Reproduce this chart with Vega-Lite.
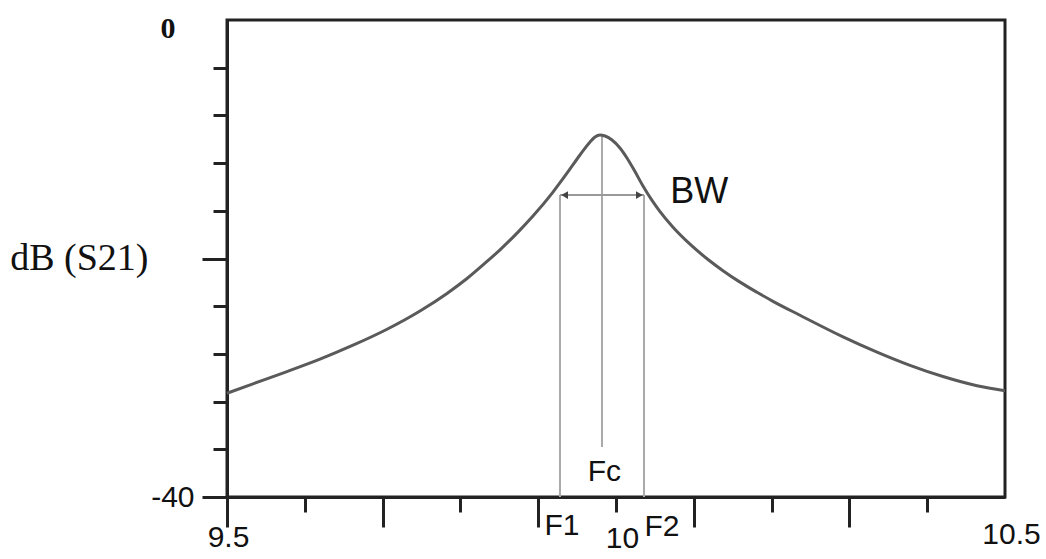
{
  "$schema": "https://vega.github.io/schema/vega-lite/v6.json",
  "width": 778,
  "height": 477,
  "autosize": {"type": "none"},
  "padding": {"left": 227, "top": 20, "right": 41, "bottom": 62},
  "background": "white",
  "config": {
    "view": {"stroke": "#222", "strokeWidth": 3},
    "font": "Liberation Sans"
  },
  "datasets": {
    "curve": [
      {"f": 9.5000, "db": -31.30},
      {"f": 9.5334, "db": -30.51},
      {"f": 9.5771, "db": -29.48},
      {"f": 9.6195, "db": -28.44},
      {"f": 9.6620, "db": -27.27},
      {"f": 9.7057, "db": -25.93},
      {"f": 9.7481, "db": -24.40},
      {"f": 9.7828, "db": -22.93},
      {"f": 9.8085, "db": -21.68},
      {"f": 9.8342, "db": -20.25},
      {"f": 9.8509, "db": -19.27},
      {"f": 9.8728, "db": -17.87},
      {"f": 9.8933, "db": -16.44},
      {"f": 9.9190, "db": -14.43},
      {"f": 9.9370, "db": -12.85},
      {"f": 9.9537, "db": -11.32},
      {"f": 9.9666, "db": -10.23},
      {"f": 9.9730, "db": -9.81},
      {"f": 9.9794, "db": -9.64},
      {"f": 9.9859, "db": -9.73},
      {"f": 9.9949, "db": -10.06},
      {"f": 10.0051, "db": -10.73},
      {"f": 10.0141, "db": -11.57},
      {"f": 10.0244, "db": -12.71},
      {"f": 10.0347, "db": -13.92},
      {"f": 10.0463, "db": -15.13},
      {"f": 10.0566, "db": -16.07},
      {"f": 10.0733, "db": -17.38},
      {"f": 10.0951, "db": -18.80},
      {"f": 10.1170, "db": -20.02},
      {"f": 10.1375, "db": -21.02},
      {"f": 10.1594, "db": -21.98},
      {"f": 10.1812, "db": -22.83},
      {"f": 10.2018, "db": -23.59},
      {"f": 10.2365, "db": -24.76},
      {"f": 10.2918, "db": -26.57},
      {"f": 10.3355, "db": -27.85},
      {"f": 10.3779, "db": -28.96},
      {"f": 10.4203, "db": -29.90},
      {"f": 10.4640, "db": -30.67},
      {"f": 10.5000, "db": -31.09}
    ],
    "verticals": [
      {"name": "F1", "f": 9.928, "lo": -40, "hi": -14.68},
      {"name": "F2", "f": 10.036, "lo": -40, "hi": -14.68},
      {"name": "Fc", "f": 9.982, "lo": -35.8, "hi": -9.64}
    ],
    "bw": [
      {"f1": 9.928, "f2": 10.036, "db": -14.68}
    ],
    "heads": [
      {"f": 9.934, "db": -14.68, "shape": "triangle-left"},
      {"f": 10.030, "db": -14.68, "shape": "triangle-right"}
    ],
    "labels": [
      {"text": "Fc", "f": 9.985, "db": -37.9, "size": 30},
      {"text": "F1", "f": 9.9306, "db": -42.4, "size": 30},
      {"text": "F2", "f": 10.059, "db": -42.5, "size": 30},
      {"text": "BW", "f": 10.107, "db": -14.42, "size": 36}
    ]
  },
  "layer": [
    {
      "data": {"name": "verticals"},
      "mark": {"type": "rule", "stroke": "#aaaaaa", "strokeWidth": 2},
      "encoding": {
        "x": {
          "field": "f", "type": "quantitative",
          "scale": {"domain": [9.5, 10.5], "nice": false, "zero": false},
          "axis": {
            "values": [9.5, 9.6, 9.7, 9.8, 9.9, 10.0, 10.1, 10.2, 10.3, 10.4, 10.5],
            "labelExpr": "abs(datum.value-9.5)<0.001 ? '9.5' : (abs(datum.value-10)<0.001 ? '10' : (abs(datum.value-10.5)<0.001 ? '10.5' : ''))",
            "tickSize": {"condition": [
              {"test": "abs(datum.value-10.5)<0.001", "value": 0},
              {"test": "abs(datum.value-9.5)<0.01 || abs(datum.value-9.7)<0.01 || abs(datum.value-9.9)<0.01 || abs(datum.value-10.1)<0.01 || abs(datum.value-10.3)<0.01", "value": 30}
            ], "value": 15},
            "tickColor": "#222",
            "tickWidth": 3,
            "domainColor": "#222",
            "domainWidth": 3,
            "grid": false,
            "labelFlush": false,
            "labelOverlap": false,
            "labelFont": "Liberation Sans",
            "labelFontSize": 30,
            "labelColor": "#111",
            "labelPadding": {"condition": [
              {"test": "abs(datum.value-9.5)<0.001", "value": -5},
              {"test": "abs(datum.value-10.5)<0.001", "value": 22}
            ], "value": 11},
            "labelOffset": {"condition": {"test": "abs(datum.value-9.5)<0.001", "value": 1}, "value": 6},
            "title": null
          }
        },
        "y": {
          "field": "lo", "type": "quantitative",
          "scale": {"domain": [-40, 0], "nice": false, "zero": false},
          "axis": {
            "values": [-40, -38, -36, -34, -32, -30, -28, -26, -24, -22, -20, -18, -16, -14, -12, -10, -8, -6, -4, -2, 0],
            "labelExpr": "datum.value == 0 ? '0' : (datum.value == -40 ? '-40' : '')",
            "tickSize": {"condition": [
              {"test": "datum.value == 0", "value": 0},
              {"test": "datum.value % 10 == 0", "value": 25}
            ], "value": 14},
            "tickColor": "#222",
            "tickWidth": 3,
            "domainColor": "#222",
            "domainWidth": 3,
            "grid": false,
            "labelOverlap": false,
            "labelFont": {"condition": {"test": "datum.value == 0", "value": "Liberation Serif"}, "value": "Liberation Sans"},
            "labelFontSize": 30,
            "labelFontWeight": {"condition": {"test": "datum.value == 0", "value": "bold"}, "value": "normal"},
            "labelColor": "#111",
            "labelPadding": {"condition": {"test": "datum.value == 0", "value": 52}, "value": 8},
            "labelOffset": {"condition": {"test": "datum.value == 0", "value": 8}, "value": 0},
            "title": "dB (S21)",
            "titleFont": "Liberation Serif",
            "titleFontSize": 38,
            "titleFontWeight": "normal",
            "titleColor": "#111",
            "titleAngle": 0,
            "titleAlign": "right",
            "titleBaseline": "middle",
            "titleX": -79,
            "titleY": 238
          }
        },
        "y2": {"field": "hi"}
      }
    },
    {
      "data": {"name": "bw"},
      "mark": {"type": "rule", "stroke": "#999999", "strokeWidth": 2},
      "encoding": {
        "x": {"field": "f1", "type": "quantitative"},
        "x2": {"field": "f2"},
        "y": {"field": "db", "type": "quantitative"}
      }
    },
    {
      "data": {"name": "heads"},
      "mark": {"type": "point", "filled": true, "color": "#444", "size": 60, "opacity": 1},
      "encoding": {
        "x": {"field": "f", "type": "quantitative"},
        "y": {"field": "db", "type": "quantitative"},
        "shape": {"field": "shape", "type": "nominal", "scale": null, "legend": null}
      }
    },
    {
      "data": {"name": "curve"},
      "mark": {"type": "line", "stroke": "#5a5a5a", "strokeWidth": 3, "interpolate": "monotone"},
      "encoding": {
        "x": {"field": "f", "type": "quantitative"},
        "y": {"field": "db", "type": "quantitative"}
      }
    },
    {
      "data": {"name": "labels"},
      "mark": {"type": "text", "font": "Liberation Sans", "color": "#111", "align": "center", "baseline": "middle"},
      "encoding": {
        "x": {"field": "f", "type": "quantitative"},
        "y": {"field": "db", "type": "quantitative"},
        "text": {"field": "text", "type": "nominal"},
        "size": {"field": "size", "type": "quantitative", "scale": null, "legend": null}
      }
    }
  ]
}
